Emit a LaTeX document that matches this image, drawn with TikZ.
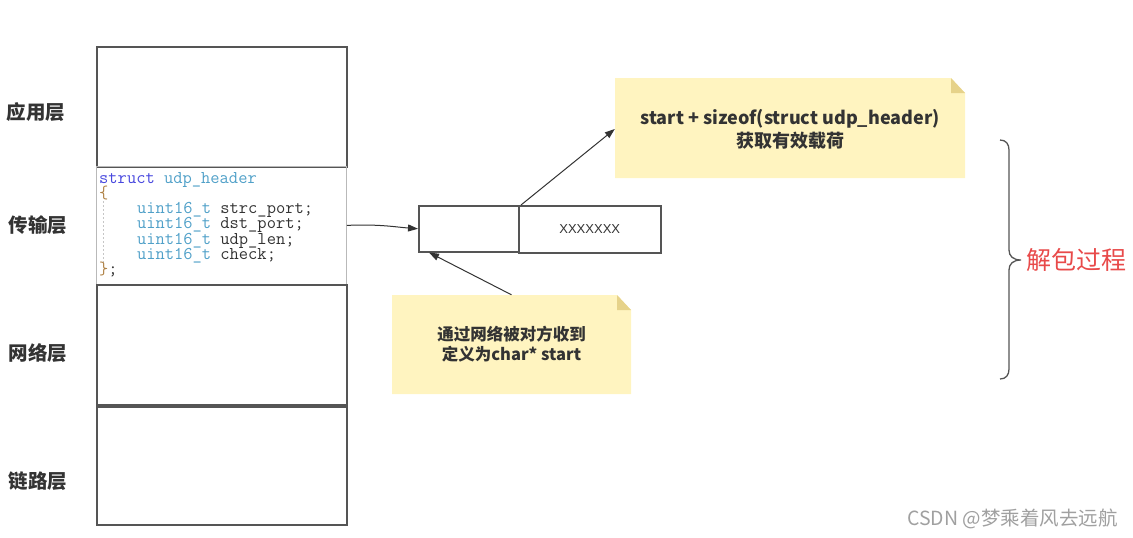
\documentclass[tikz,border=0pt]{standalone}
\usepackage{fontspec}
\setmainfont{Noto Sans CJK SC}
\newfontfamily\cjk{Noto Sans CJK SC}
\newfontfamily\xfont{Liberation Sans}
\usetikzlibrary{arrows.meta}
\definecolor{boxgray}{HTML}{555555}
\definecolor{notefill}{HTML}{FFF4C0}
\definecolor{notefold}{HTML}{E6D28A}
\definecolor{txt}{HTML}{333333}
\definecolor{kwblue}{RGB}{72,72,222}
\definecolor{kwteal}{RGB}{80,160,200}
\definecolor{brbrown}{RGB}{175,130,70}
\definecolor{redtxt}{HTML}{E84A4A}
\definecolor{wm}{HTML}{A0A0A0}
\newcommand{\ind}{\hspace*{37.8pt}}
\newcommand{\codesel}{\ttfamily\fontsize{18}{15.2}\selectfont\lineskiplimit=-20pt\relax\lineskip=0pt\relax}
\tikzset{
  layerbox/.style={draw=boxgray, line width=1.5pt, fill=white, rectangle, inner sep=0pt, anchor=north west},
  codebox/.style={draw=gray!55, line width=0.8pt, rectangle, inner sep=0pt, anchor=north west},
  cell/.style={draw=boxgray, line width=1.5pt, rectangle, inner sep=0pt, anchor=north west},
  layerlbl/.style={font=\cjk\bfseries\fontsize{19.5}{21}\selectfont, text=txt},
  codetxt/.style={anchor=north west, inner sep=0pt, align=left, font=\codesel, text=txt},
  notetxt/.style={font=\cjk\bfseries, text=txt, align=center},
  arr/.style={draw=txt, line width=1pt, -{Triangle[length=10pt,width=7pt]}},
  notebg/.style={fill=notefill, draw=none},
  foldbg/.style={fill=notefold, draw=none}
}
\begin{document}
\begin{tikzpicture}[x=1pt,y=-1pt]
\useasboundingbox (0,0) rectangle (1133,538);
% layer column
\node[layerbox, minimum width=250pt, minimum height=120pt] (app) at (96,46) {};
\node[codebox, minimum width=250pt, minimum height=118pt] (code) at (96,166) {};
\node[layerbox, minimum width=250pt, minimum height=120pt] (net) at (96,284) {};
\node[layerbox, minimum width=250pt, minimum height=118pt] (link) at (96,406) {};
% layer labels
\node[layerlbl] (l1) at (36,112) {应用层};
\node[layerlbl] (l2) at (38,225) {传输层};
\node[layerlbl] (l3) at (38,353) {网络层};
\node[layerlbl] (l4) at (38,481) {链路层};
% code
\draw[gray!45, line width=0.8pt, dash pattern=on 2pt off 2pt] (103,201) -- (103,263);
\node[codetxt] (ctext) at (99,172) {\textcolor{kwblue}{struct} \textcolor{kwteal}{udp\_header}\\
\textcolor{brbrown}{\{}\\
\ind\textcolor{kwteal}{uint16\_t} strc\_port;\\
\ind\textcolor{kwteal}{uint16\_t} dst\_port;\\
\ind\textcolor{kwteal}{uint16\_t} udp\_len;\\
\ind\textcolor{kwteal}{uint16\_t} check;\\
\textcolor{brbrown}{\}};};
% packet cells
\node[cell, minimum width=100pt, minimum height=46pt] (hdr) at (418,205) {};
\node[cell, minimum width=142pt, minimum height=47pt, font=\xfont\fontsize{13}{14}\selectfont, text=txt] (pay) at (518,205) {XXXXXXX};
% note 1
\path[notebg] (615,78) -- (951,78) -- (965,93) -- (965,178) -- (615,178) -- cycle;
\path[foldbg] (951,78) -- (965,93) -- (951,93) -- cycle;
\node[notetxt, minimum width=350pt, minimum height=100pt, font=\cjk\bfseries\fontsize{18}{23}\selectfont] (n1) at (790,129) {start + sizeof(struct udp\_header)\\获取有效载荷};
% note 2
\path[notebg] (392,295) -- (617,295) -- (631,310) -- (631,394) -- (392,394) -- cycle;
\path[foldbg] (617,295) -- (631,310) -- (617,310) -- cycle;
\node[notetxt, minimum width=239pt, minimum height=99pt, font=\cjk\bfseries\fontsize{16.5}{20}\selectfont] (n2) at (511.5,344.5) {通过网络被对方收到\\定义为char* start};
% arrows
\draw[arr] (code.east) .. controls (380,224) and (395,227) .. (hdr.west);
\draw[arr] (n2.north) -- ([xshift=11pt]hdr.south west);
\draw[arr] ([xshift=3pt]pay.north west) -- (n1.west);
% brace
\draw[boxgray, line width=1.3pt] (1000,140) .. controls (1006,140) and (1009,144) .. (1009,150) -- (1009,250) .. controls (1009,256) and (1013,260) .. (1021,260) .. controls (1013,260) and (1009,264) .. (1009,270) -- (1009,369) .. controls (1009,375) and (1006,379) .. (1000,379);
\node[anchor=west, inner sep=0pt, font=\cjk\fontsize{25}{26}\selectfont, text=redtxt] (proc) at (1026,260) {解包过程};
% watermark
\node[anchor=west, inner sep=0pt, font=\cjk\fontsize{19.5}{20}\selectfont, text=wm] (wmk) at (907,519) {CSDN @梦乘着风去远航};
\end{tikzpicture}
\end{document}
